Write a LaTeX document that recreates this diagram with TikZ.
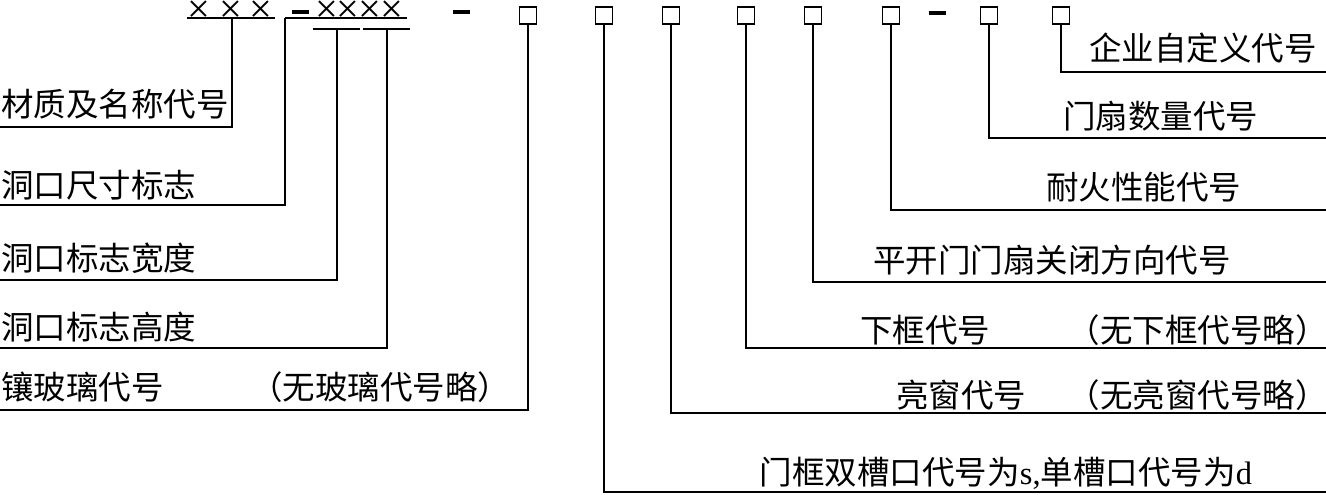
\documentclass[tikz,border=0pt]{standalone}
\usepackage{fontspec}
\setmainfont{Liberation Serif}
\newfontfamily\cjk{Noto Sans CJK SC}
\usetikzlibrary{positioning}
\tikzset{
  lead/.style={line width=1.1pt},
  codebox/.style={draw, line width=0.8pt, minimum size=0.34cm, inner sep=0},
  crs/.style={font=\fontsize{23}{23}\selectfont, inner sep=0, anchor=base,
    text height=0.45em, text depth=0pt},
  sepmark/.style={inner sep=0},
  lbl/.style={font=\cjk\fontsize{18.5}{18.5}\selectfont, inner sep=0},
}

\begin{document}
\begin{tikzpicture}[x=0.02cm, y=-0.02cm]
  \useasboundingbox (0,0) rectangle (1326,494);
  % Zeichen oben
  \foreach \x [count=\i] in {199,231,261}
    \node[crs] (m\i) at (\x,22.5) {×};
  \node[sepmark] (d1) at (300,12) {\rule{0.34cm}{0.08cm}};
  \foreach \x [count=\i] in {327,348,370,392}
    \node[crs] (s\i) at (\x,22.5) {×};
  \node[sepmark] (d2) at (461,12) {\rule{0.34cm}{0.08cm}};
  \node[sepmark] (d3) at (937,13) {\rule{0.34cm}{0.08cm}};
  % Kaestchen
  \node[codebox] (bGlass)  at (528,15.5) {};
  \node[codebox] (bFrame)  at (604,15.5) {};
  \node[codebox] (bLight)  at (671,15.5) {};
  \node[codebox] (bSill)   at (746,15.5) {};
  \node[codebox] (bSwing)  at (813,15.5) {};
  \node[codebox] (bFire)   at (891,15.5) {};
  \node[codebox] (bLeaf)   at (989,15.5) {};
  \node[codebox] (bCustom) at (1061,15.5) {};

  % Klammern unter den Kreuzen
  \coordinate (matL) at (187,18);  \coordinate (matR) at (275,18);
  \coordinate (uMat) at (232,18);
  \coordinate (sizL) at (285,18);  \coordinate (sizR) at (407,18);
  \coordinate (widL) at (313,29);  \coordinate (widR) at (360,29);
  \coordinate (uWid) at (337,29);
  \coordinate (hgtL) at (363,29);  \coordinate (hgtR) at (410,29);
  \coordinate (uHgt) at (387,29);
  \draw[lead] (matL) -- (matR);
  \draw[lead] (sizL) -- (sizR);
  \draw[lead] (widL) -- (widR);
  \draw[lead] (hgtL) -- (hgtR);

  % Texte links
  \node[lbl, anchor=west] (tMat)   at (1,104) {材质及名称代号};
  \node[lbl, anchor=west] (tSize)  at (1,185) {洞口尺寸标志};
  \node[lbl, anchor=west] (tWid)   at (1,258) {洞口标志宽度};
  \node[lbl, anchor=west] (tHgt)   at (1,327) {洞口标志高度};
  \node[lbl, anchor=west] (tGlass) at (1,387) {镶玻璃代号};
  \node[lbl, anchor=west] (tGlassNo) at (250,387) {（无玻璃代号略）};
  % Texte rechts
  \node[lbl, anchor=east] (tCustom) at (1317,48) {企业自定义代号};
  \node[lbl, anchor=west] (tLeaf)   at (1063,116) {门扇数量代号};
  \node[lbl, anchor=west] (tFire)   at (1046,187) {耐火性能代号};
  \node[lbl, anchor=west] (tSwing)  at (873,260) {平开门门扇关闭方向代号};
  \node[lbl, anchor=west] (tSill)   at (860,330) {下框代号};
  \node[lbl, anchor=east] (tSillNo) at (1328,330) {（无下框代号略）};
  \node[lbl, anchor=west] (tLight)  at (896,395) {亮窗代号};
  \node[lbl, anchor=east] (tLightNo) at (1328,395) {（无亮窗代号略）};
  \node[font=\fontsize{18.5}{18.5}\selectfont, inner sep=0] (tFrame) at (1006,473)
    {{\cjk 门框双槽口代号为}s,{\cjk 单槽口代号为}d};

  % Linienenden
  \coordinate (eMat)    at (0,127);
  \coordinate (eSize)   at (0,205);
  \coordinate (eWid)    at (0,280);
  \coordinate (eHgt)    at (0,348);
  \coordinate (eGlass)  at (0,410);
  \coordinate (eCustom) at (1326,72);
  \coordinate (eLeaf)   at (1326,138);
  \coordinate (eFire)   at (1326,210);
  \coordinate (eSwing)  at (1326,282);
  \coordinate (eSill)   at (1326,348);
  \coordinate (eLight)  at (1326,413);
  \coordinate (eFrame)  at (1326,492);

  % Fuehrungslinien
  \draw[lead] (uMat) |- (eMat);
  \draw[lead] (sizL) |- (eSize);
  \draw[lead] (uWid) |- (eWid);
  \draw[lead] (uHgt) |- (eHgt);
  \draw[lead] (bGlass.south) |- (eGlass);
  \draw[lead] (bCustom.south) |- (eCustom);
  \draw[lead] (bLeaf.south) |- (eLeaf);
  \draw[lead] (bFire.south) |- (eFire);
  \draw[lead] (bSwing.south) |- (eSwing);
  \draw[lead] (bSill.south) |- (eSill);
  \draw[lead] (bLight.south) |- (eLight);
  \draw[lead] (bFrame.south) |- (eFrame);
\end{tikzpicture}
\end{document}
